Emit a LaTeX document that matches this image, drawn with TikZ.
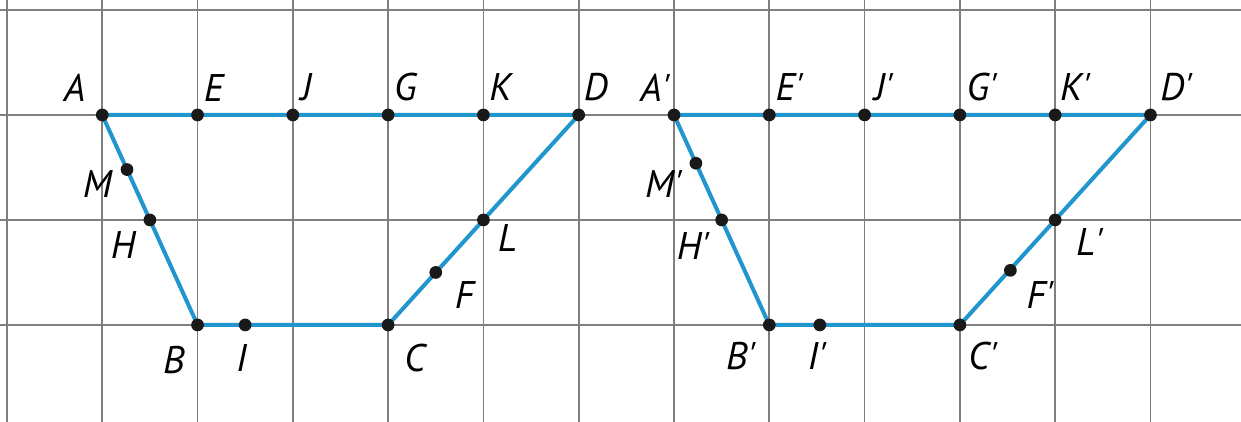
\documentclass[tikz,border=0pt]{standalone}
\usepackage{fontspec}
\setmainfont{PT Sans}
\usepackage{tikz}
\definecolor{segblue}{HTML}{2196CE}
\definecolor{gridgray}{HTML}{7F7F7F}
\newcommand{\pr}{\textquotesingle}
\tikzset{
  gridline/.style={gridgray,line width=0.5pt},
  seg/.style={segblue,line width=1.2pt,line join=round},
  dot/.style={circle,fill=black!90,inner sep=0pt,minimum size=3.8pt},
  lbl/.style={font=\fontsize{11.5}{13}\selectfont\itshape,inner sep=0pt}
}

\begin{document}
\begin{tikzpicture}[x=1cm,y=1.1018cm]
\useasboundingbox (-0.073,0.076) rectangle (12.95,4.095);
\draw[gridline,step=1] (-0.073,0.076) grid (12.95,4.095);
% first figure
\coordinate (A) at (1,3);
\coordinate (E) at (2,3);
\coordinate (J) at (3,3);
\coordinate (G) at (4,3);
\coordinate (K) at (5,3);
\coordinate (D) at (6,3);
\coordinate (M) at (1.26,2.48);
\coordinate (H) at (1.5,2);
\coordinate (B) at (2,1);
\coordinate (I) at (2.5,1);
\coordinate (C) at (4,1);
\coordinate (F) at (4.5,1.5);
\coordinate (L) at (5,2);
\draw[seg] (A)--(D)--(C)--(B)--cycle;
% second figure
\coordinate (Ap) at (7,3);
\coordinate (Ep) at (8,3);
\coordinate (Jp) at (9,3);
\coordinate (Gp) at (10,3);
\coordinate (Kp) at (11,3);
\coordinate (Dp) at (12,3);
\coordinate (Mp) at (7.23,2.54);
\coordinate (Hp) at (7.5,2);
\coordinate (Bp) at (8,1);
\coordinate (Ip) at (8.53,1);
\coordinate (Cp) at (10,1);
\coordinate (Fp) at (10.53,1.52);
\coordinate (Lp) at (11,2);
\draw[seg] (Ap)--(Dp)--(Cp)--(Bp)--cycle;
% points
\node[dot] (dA) at (A) {};
\node[dot] (dE) at (E) {};
\node[dot] (dJ) at (J) {};
\node[dot] (dG) at (G) {};
\node[dot] (dK) at (K) {};
\node[dot] (dD) at (D) {};
\node[dot] (dM) at (M) {};
\node[dot] (dH) at (H) {};
\node[dot] (dB) at (B) {};
\node[dot] (dI) at (I) {};
\node[dot] (dC) at (C) {};
\node[dot] (dF) at (F) {};
\node[dot] (dL) at (L) {};
\node[dot] (dAp) at (Ap) {};
\node[dot] (dEp) at (Ep) {};
\node[dot] (dJp) at (Jp) {};
\node[dot] (dGp) at (Gp) {};
\node[dot] (dKp) at (Kp) {};
\node[dot] (dDp) at (Dp) {};
\node[dot] (dMp) at (Mp) {};
\node[dot] (dHp) at (Hp) {};
\node[dot] (dBp) at (Bp) {};
\node[dot] (dIp) at (Ip) {};
\node[dot] (dCp) at (Cp) {};
\node[dot] (dFp) at (Fp) {};
\node[dot] (dLp) at (Lp) {};
% labels
\node[lbl] (lA) at ([shift={(-0.29cm,0.29cm)}]A) {A};
\node[lbl] (lE) at ([shift={(0.17cm,0.28cm)}]E) {E};
\node[lbl] (lJ) at ([shift={(0.14cm,0.29cm)}]J) {J};
\node[lbl] (lG) at ([shift={(0.18cm,0.29cm)}]G) {G};
\node[lbl] (lK) at ([shift={(0.18cm,0.29cm)}]K) {K};
\node[lbl] (lD) at ([shift={(0.18cm,0.29cm)}]D) {D};
\node[lbl] (lM) at ([shift={(-0.31cm,-0.15cm)}]M) {M};
\node[lbl] (lH) at ([shift={(-0.28cm,-0.26cm)}]H) {H};
\node[lbl] (lB) at ([shift={(-0.25cm,-0.37cm)}]B) {B};
\node[lbl] (lI) at ([shift={(-0.04cm,-0.35cm)}]I) {I};
\node[lbl] (lC) at ([shift={(0.28cm,-0.35cm)}]C) {C};
\node[lbl] (lF) at ([shift={(0.30cm,-0.24cm)}]F) {F};
\node[lbl] (lL) at ([shift={(0.25cm,-0.19cm)}]L) {L};
\node[lbl] (lAp) at ([shift={(-0.20cm,0.29cm)}]Ap) {A\pr};
\node[lbl] (lEp) at ([shift={(0.21cm,0.29cm)}]Ep) {E\pr};
\node[lbl] (lJp) at ([shift={(0.20cm,0.29cm)}]Jp) {J\pr};
\node[lbl] (lGp) at ([shift={(0.23cm,0.29cm)}]Gp) {G\pr};
\node[lbl] (lKp) at ([shift={(0.21cm,0.29cm)}]Kp) {K\pr};
\node[lbl] (lDp) at ([shift={(0.27cm,0.29cm)}]Dp) {D\pr};
\node[lbl] (lMp) at ([shift={(-0.34cm,-0.22cm)}]Mp) {M\pr};
\node[lbl] (lHp) at ([shift={(-0.30cm,-0.27cm)}]Hp) {H\pr};
\node[lbl] (lBp) at ([shift={(-0.30cm,-0.33cm)}]Bp) {B\pr};
\node[lbl] (lIp) at ([shift={(-0.03cm,-0.33cm)}]Ip) {I\pr};
\node[lbl] (lCp) at ([shift={(0.24cm,-0.33cm)}]Cp) {C\pr};
\node[lbl] (lFp) at ([shift={(0.31cm,-0.26cm)}]Fp) {F\pr};
\node[lbl] (lLp) at ([shift={(0.36cm,-0.23cm)}]Lp) {L\pr};
\end{tikzpicture}
\end{document}
